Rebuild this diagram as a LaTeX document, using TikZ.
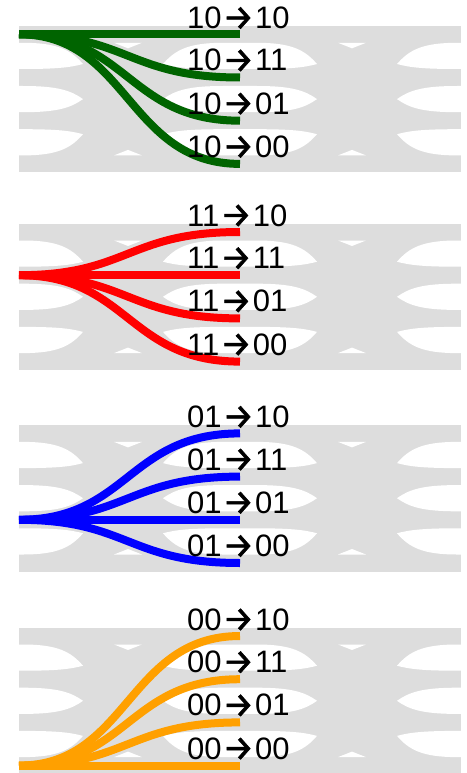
\documentclass[tikz,border=0pt]{standalone}
\usepackage{fontspec}
\usepackage{xcolor}
\usepackage{tikz}
\setmainfont{Liberation Sans}
\newfontfamily\arrowfont[FakeBold=1.5]{Fira Sans}
\definecolor{EyeGray}{HTML}{DDDDDD}
\definecolor{TrGreen}{HTML}{006400}
\definecolor{TrRed}{HTML}{FF0000}
\definecolor{TrBlue}{HTML}{0000FF}
\definecolor{TrOrange}{HTML}{FFA000}
\newcommand{\arw}{\kern1pt\raisebox{-1pt}{\arrowfont\fontsize{35}{36}\selectfont →}\kern1pt}
% one eye opening: #1 left tip x, #2 right tip x, #3 tip y, #4 top y, #5 bottom y
\newcommand{\eyehole}[5]{%
  \fill[white] (#1,#3) .. controls ({#1+12},{#3+(#4-#3)*0.65}) and ({#1+25},#4) .. ({#1+60},#4)
    -- ({#2-60},#4) .. controls ({#2-25},#4) and ({#2-12},{#3+(#4-#3)*0.65}) .. (#2,#3)
    .. controls ({#2-12},{#3+(#5-#3)*0.65}) and ({#2-25},#5) .. ({#2-60},#5)
    -- ({#1+60},#5) .. controls ({#1+25},#5) and ({#1+12},{#3+(#5-#3)*0.65}) .. cycle;}
% eye of one panel, #1 = y of the top level
\newcommand{\eyeband}[1]{%
  \begin{scope}[shift={(0,#1)}]
    \fill[EyeGray] (19,-8.5) rectangle (461,138.1);
    \foreach \ex in {-71,163,397}{
      \eyehole{\ex}{\ex+154}{29.7}{8.5}{34.7}
      \eyehole{\ex}{\ex+154}{64.8}{51.7}{77.9}
      \eyehole{\ex}{\ex+154}{99.9}{94.9}{121.1}
    }
    \foreach \cx in {128,352}{
      \fill[white] (\cx-14,8.5) -- (\cx+14,8.5) -- (\cx,14) -- cycle;
      \fill[white] (\cx-14,121.1) -- (\cx+14,121.1) -- (\cx,115.6) -- cycle;
    }
  \end{scope}}
\tikzset{
  fan/.style={#1,line width=8pt},
  lab/.style={anchor=base west,inner sep=0pt,font=\fontsize{31}{36}\selectfont}
}

\begin{document}
\begin{tikzpicture}[x=1pt,y=-1pt]
\path[use as bounding box] (0,0) rectangle (466,773);
\eyeband{34.3}
\eyeband{232}
\eyeband{433.4}
\eyeband{636}
% 10 -> x
\coordinate (A) at (19,34.3);
\coordinate (A10) at (240,34.3);
\coordinate (A11) at (240,77.5);
\coordinate (A01) at (240,120.7);
\coordinate (A00) at (240,163.9);
\draw[fan=TrGreen] (A) .. controls +(109,0) and +(-112,0) .. (A00);
\draw[fan=TrGreen] (A) .. controls +(109,0) and +(-112,0) .. (A01);
\draw[fan=TrGreen] (A) .. controls +(109,0) and +(-112,0) .. (A11);
\draw[fan=TrGreen] (A) -- (A10);
\node[lab] (A10l) at (187,28.5) {10\arw10};
\node[lab] (A11l) at (187,71) {10\arw11};
\node[lab] (A01l) at (187,114.2) {10\arw01};
\node[lab] (A00l) at (187,157.4) {10\arw00};
% 11 -> x
\coordinate (B) at (19,275.2);
\coordinate (B10) at (240,232);
\coordinate (B11) at (240,275.2);
\coordinate (B01) at (240,318.4);
\coordinate (B00) at (240,361.6);
\draw[fan=TrRed] (B) .. controls +(109,0) and +(-112,0) .. (B10);
\draw[fan=TrRed] (B) .. controls +(109,0) and +(-112,0) .. (B01);
\draw[fan=TrRed] (B) .. controls +(109,0) and +(-112,0) .. (B00);
\draw[fan=TrRed] (B) -- (B11);
\node[lab] (B10l) at (187,226) {11\arw10};
\node[lab] (B11l) at (187,268.7) {11\arw11};
\node[lab] (B01l) at (187,311.9) {11\arw01};
\node[lab] (B00l) at (187,355.1) {11\arw00};
% 01 -> x
\coordinate (C) at (19,519.8);
\coordinate (C10) at (240,433.4);
\coordinate (C11) at (240,476.6);
\coordinate (C01) at (240,519.8);
\coordinate (C00) at (240,563);
\draw[fan=TrBlue] (C) .. controls +(109,0) and +(-112,0) .. (C10);
\draw[fan=TrBlue] (C) .. controls +(109,0) and +(-112,0) .. (C11);
\draw[fan=TrBlue] (C) .. controls +(109,0) and +(-112,0) .. (C00);
\draw[fan=TrBlue] (C) -- (C01);
\node[lab] (C10l) at (187,427.4) {01\arw10};
\node[lab] (C11l) at (187,470.1) {01\arw11};
\node[lab] (C01l) at (187,513.3) {01\arw01};
\node[lab] (C00l) at (187,556.5) {01\arw00};
% 00 -> x
\coordinate (D) at (19,765.6);
\coordinate (D10) at (240,636);
\coordinate (D11) at (240,679.2);
\coordinate (D01) at (240,722.4);
\coordinate (D00) at (240,765.6);
\draw[fan=TrOrange] (D) .. controls +(109,0) and +(-112,0) .. (D10);
\draw[fan=TrOrange] (D) .. controls +(109,0) and +(-112,0) .. (D11);
\draw[fan=TrOrange] (D) .. controls +(109,0) and +(-112,0) .. (D01);
\draw[fan=TrOrange] (D) -- (D00);
\node[lab] (D10l) at (187,630) {00\arw10};
\node[lab] (D11l) at (187,672.7) {00\arw11};
\node[lab] (D01l) at (187,715.9) {00\arw01};
\node[lab] (D00l) at (187,759.1) {00\arw00};
\end{tikzpicture}
\end{document}
